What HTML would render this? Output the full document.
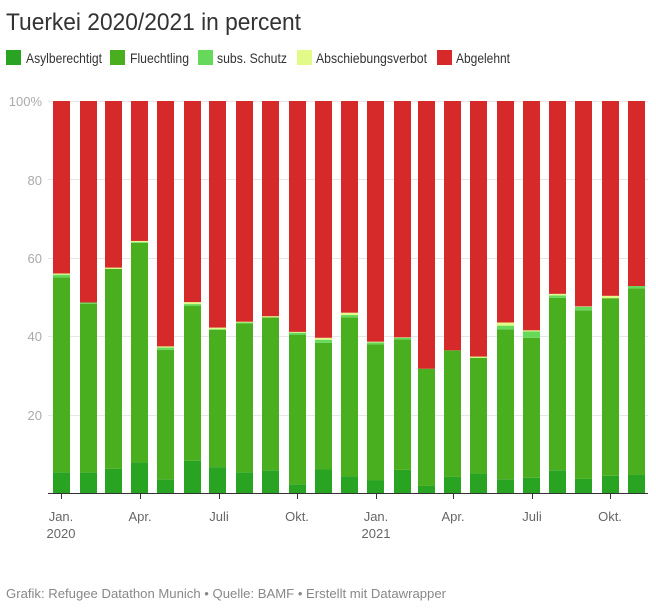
<!DOCTYPE html>
<html><head><meta charset="utf-8">
<style>
body{margin:0;background:#fff;font-family:"Liberation Sans",sans-serif;}
svg text{font-family:"Liberation Sans",sans-serif;}
</style></head><body>
<svg id="c" width="656" height="608" xmlns="http://www.w3.org/2000/svg">
<text x="6" y="30" font-size="24" fill="#333" textLength="295" lengthAdjust="spacingAndGlyphs">Tuerkei 2020/2021 in percent</text>
<rect x="6" y="50" width="15" height="15" fill="#29a322"/><text x="26" y="63" font-size="14" fill="#333" textLength="76" lengthAdjust="spacingAndGlyphs">Asylberechtigt</text>
<rect x="110" y="50" width="15" height="15" fill="#4aaf1e"/><text x="130" y="63" font-size="14" fill="#333" textLength="59" lengthAdjust="spacingAndGlyphs">Fluechtling</text>
<rect x="198" y="50" width="15" height="15" fill="#66d95a"/><text x="217" y="63" font-size="14" fill="#333" textLength="70" lengthAdjust="spacingAndGlyphs">subs. Schutz</text>
<rect x="297" y="50" width="15" height="15" fill="#e2fb88"/><text x="316" y="63" font-size="14" fill="#333" textLength="111" lengthAdjust="spacingAndGlyphs">Abschiebungsverbot</text>
<rect x="437" y="50" width="15" height="15" fill="#d62a2a"/><text x="456" y="63" font-size="14" fill="#333" textLength="54" lengthAdjust="spacingAndGlyphs">Abgelehnt</text>
<g fill="#aaa" font-size="13" text-anchor="end">
<text x="42" y="106">100%</text><text x="42" y="185">80</text><text x="42" y="263">60</text><text x="42" y="341">40</text><text x="42" y="420">20</text>
</g>
<g stroke="#e6e6e6" stroke-width="1">
<line x1="48" x2="648" y1="101.5" y2="101.5"/><line x1="48" x2="648" y1="179.5" y2="179.5"/><line x1="48" x2="648" y1="258.5" y2="258.5"/><line x1="48" x2="648" y1="336.5" y2="336.5"/><line x1="48" x2="648" y1="415.5" y2="415.5"/>
</g>
<g id="bars"></g>
<line x1="48" x2="648" y1="493.5" y2="493.5" stroke="#333" stroke-width="1"/>
<g stroke="#333" stroke-width="1" id="ticks"></g>
<g fill="#666" font-size="13" text-anchor="middle">
<text x="61" y="521">Jan.</text><text x="61" y="538">2020</text>
<text x="140" y="521">Apr.</text><text x="219" y="521">Juli</text><text x="297" y="521">Okt.</text>
<text x="376" y="521">Jan.</text><text x="376" y="538">2021</text>
<text x="453" y="521">Apr.</text><text x="532" y="521">Juli</text><text x="610" y="521">Okt.</text>
</g>
<text x="6" y="598" font-size="13" fill="#888" textLength="440" lengthAdjust="spacingAndGlyphs">Grafik: Refugee Datathon Munich • Quelle: BAMF • Erstellt mit Datawrapper</text>
</svg>
<script>
var xs=[53,80,105,131,157,184,209,236,262,289,315,341,367,394,418,444,470,497,523,549,575,602,628];
var d=[[5.3,49.7,0.7,0.3],[5.3,43,0.3,0],[6.2,51,0,0.3],[7.8,56,0.2,0.3],[3.5,33,0.6,0.3],[8.2,39.5,0.5,0.5],[6.6,35,0.2,0.4],[5.3,38,0.2,0.2],[5.8,39,0,0.3],[2.2,38.2,0.5,0.2],[6,32.3,0.8,0.5],[4.3,40.5,0.6,0.6],[3.3,34.6,0.5,0.2],[5.9,33.3,0.4,0.1],[1.8,29.9,0,0],[4.1,32.3,0,0],[5,29.5,0,0.3],[3.5,38.2,1,0.8],[3.9,35.7,1.6,0.3],[5.8,44,0.6,0.4],[3.6,43,0.9,0.1],[4.4,45.3,0,0.6],[4.6,47.6,0.6,0]];
var cols=["#29a322","#4aaf1e","#66d95a","#e2fb88","#d62a2a"];
var g=document.getElementById('bars'),s="";
var k=3.92,b=493;
d.forEach(function(v,i){var acc=0;var vals=v.concat([100-v[0]-v[1]-v[2]-v[3]]);
vals.forEach(function(p,j){if(p<=0)return;var y=b-(acc+p)*k;s+='<rect x="'+xs[i]+'" y="'+y.toFixed(2)+'" width="17" height="'+(p*k).toFixed(2)+'" fill="'+cols[j]+'"/>';acc+=p;});});
g.innerHTML=s;
var t="";[61,140,219,297,376,453,532,610].forEach(function(x){t+='<line x1="'+(x+.5)+'" x2="'+(x+.5)+'" y1="493" y2="499"/>';});
document.getElementById('ticks').innerHTML=t;
</script>
</body></html>
